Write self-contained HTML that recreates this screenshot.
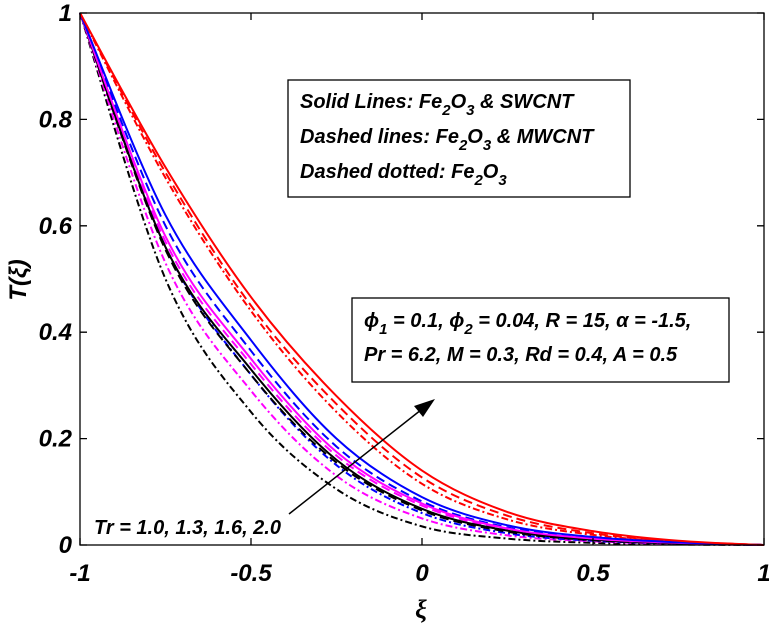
<!DOCTYPE html>
<html><head><meta charset="utf-8"><style>
body{margin:0;background:#fff}
svg{display:block;font-family:"Liberation Sans",Arial,sans-serif;font-weight:bold;font-style:italic}
</style></head><body>
<svg id="chart" width="769" height="624" viewBox="0 0 769 624">
<g id="curves"></g>
<rect x="80" y="13" width="684" height="532" fill="none" stroke="#000" stroke-width="1.3"/>
<g id="axes"></g>
<text x="421" y="618" font-size="26" text-anchor="middle" font-family="Liberation Serif,serif">ξ</text>
<text transform="translate(26,280) rotate(-90)" font-size="24" text-anchor="middle">T(ξ)</text>
<g>
<rect x="288" y="80" width="342" height="117" fill="#fff" stroke="#000" stroke-width="1.3"/>
<text x="300" y="108" font-size="20">Solid Lines: Fe<tspan font-size="15" dy="7">2</tspan><tspan dy="-7">O</tspan><tspan font-size="15" dy="7">3</tspan><tspan dy="-7"> &amp; SWCNT</tspan></text>
<text x="300" y="143" font-size="20">Dashed lines: Fe<tspan font-size="15" dy="7">2</tspan><tspan dy="-7">O</tspan><tspan font-size="15" dy="7">3</tspan><tspan dy="-7"> &amp;  MWCNT</tspan></text>
<text x="300" y="178" font-size="20">Dashed dotted: Fe<tspan font-size="15" dy="7">2</tspan><tspan dy="-7">O</tspan><tspan font-size="15" dy="7">3</tspan></text>
</g>
<g>
<rect x="352" y="298" width="377" height="84" fill="#fff" stroke="#000" stroke-width="1.3"/>
<text x="364" y="327" font-size="20">ϕ<tspan font-size="15" dy="7">1</tspan><tspan dy="-7"> = 0.1, ϕ</tspan><tspan font-size="15" dy="7">2</tspan><tspan dy="-7"> = 0.04, R = 15, α = -1.5,</tspan></text>
<text x="364" y="361" font-size="20">Pr = 6.2, M = 0.3, Rd = 0.4, A = 0.5</text>
</g>
<g>
<line x1="289" y1="514" x2="426" y2="406" stroke="#000" stroke-width="1.5"/>
<polygon points="435,399 414,406 423,417" fill="#000"/>
</g>
<text x="94" y="534" font-size="20">Tr = 1.0, 1.3, 1.6, 2.0</text>
</svg>
<script>
const xs=[-1,-0.75,-0.5,-0.25,0,0.25,0.5,0.75,1];
const redSolid=[1,0.71,0.466,0.28,0.14,0.062,0.026,0.008,0];
const redDash=[1,0.70,0.45,0.265,0.127,0.055,0.022,0.007,0];
const redDD=[1,0.69,0.44,0.25,0.115,0.048,0.019,0.006,0];
const blueSolid=[1,0.62,0.385,0.20,0.09,0.037,0.015,0.005,0];
const blueDash=[1,0.60,0.365,0.185,0.082,0.033,0.013,0.004,0];
const blueDD=[1,0.56,0.32,0.15,0.06,0.022,0.008,0.003,0];
const magSolid=[1,0.58,0.35,0.175,0.078,0.031,0.012,0.004,0];
const magDash=[1,0.57,0.34,0.168,0.074,0.029,0.011,0.004,0];
const magDD=[1,0.53,0.29,0.13,0.05,0.018,0.007,0.002,0];
const blackSolid=[1,0.56,0.33,0.16,0.068,0.027,0.01,0.003,0];
const blackDash=[1,0.555,0.32,0.155,0.065,0.025,0.009,0.003,0];
const blackDD=[1,0.50,0.25,0.105,0.035,0.012,0.004,0.001,0];
const xTicks=[-1,-0.5,0,0.5,1];
const xTickLabels=["-1","-0.5","0","0.5","1"];
const yTicks=[0,0.2,0.4,0.6,0.8,1];
const yTickLabels=["0","0.2","0.4","0.6","0.8","1"];
const sx=v=>80+(v+1)/2*684;
const sy=v=>545-v*532;
const NS="http://www.w3.org/2000/svg";
const series=[
 [blackDD,"#000","7 3 2 3","black-dashdot"],[magDD,"#f0f","7 3 2 3","magenta-dashdot"],[blueDD,"#00f","7 3 2 3","blue-dashdot"],[redDD,"#f00","7 3 2 3","red-dashdot"],
 [blackDash,"#000","9 5","black-dashed"],[magDash,"#f0f","9 5","magenta-dashed"],[blueDash,"#00f","9 5","blue-dashed"],[redDash,"#f00","9 5","red-dashed"],
 [blackSolid,"#000","","black-solid"],[magSolid,"#f0f","","magenta-solid"],[blueSolid,"#00f","","blue-solid"],[redSolid,"#f00","","red-solid"]];
function pathFor(ys){
 const p=xs.map((x,i)=>[sx(x),sy(ys[i])]);
 let d="M"+p[0][0]+","+p[0][1];
 for(let i=0;i<p.length-1;i++){
  const p0=p[Math.max(0,i-1)],p1=p[i],p2=p[i+1],p3=p[Math.min(p.length-1,i+2)];
  const c1=[p1[0]+(p2[0]-p0[0])/6,p1[1]+(p2[1]-p0[1])/6];
  const c2=[p2[0]-(p3[0]-p1[0])/6,p2[1]-(p3[1]-p1[1])/6];
  d+=" C"+c1+" "+c2+" "+p2;
 }
 return d;
}
const cg=document.getElementById("curves");
series.forEach(s=>{
 const el=document.createElementNS(NS,"path");
 el.setAttribute("d",pathFor(s[0]));
 el.setAttribute("fill","none");
 el.setAttribute("stroke",s[1]);
 el.setAttribute("stroke-width","2");
 if(s[2])el.setAttribute("stroke-dasharray",s[2]);
 
 
 cg.appendChild(el);
});
const ag=document.getElementById("axes");
xTicks.forEach((t,i)=>{
 const x=sx(t);
 const l=document.createElementNS(NS,"path");
 l.setAttribute("d","M"+x+",545 v-7 M"+x+",13 v7");
 l.setAttribute("stroke","#000");l.setAttribute("stroke-width","1.3");
 
 
 ag.appendChild(l);
 const tx=document.createElementNS(NS,"text");
 tx.setAttribute("x",x);tx.setAttribute("y","581");tx.setAttribute("font-size","24");tx.setAttribute("text-anchor","middle");
 tx.textContent=xTickLabels[i];
 
 
 ag.appendChild(tx);
});
yTicks.forEach((t,i)=>{
 const y=sy(t);
 const l=document.createElementNS(NS,"path");
 l.setAttribute("d","M80,"+y+" h7 M764,"+y+" h-7");
 l.setAttribute("stroke","#000");l.setAttribute("stroke-width","1.3");
 
 
 ag.appendChild(l);
 const tx=document.createElementNS(NS,"text");
 tx.setAttribute("x","72");tx.setAttribute("y",y+8);tx.setAttribute("font-size","24");tx.setAttribute("text-anchor","end");
 tx.textContent=yTickLabels[i];
 
 
 ag.appendChild(tx);
});
</script>
</body></html>
